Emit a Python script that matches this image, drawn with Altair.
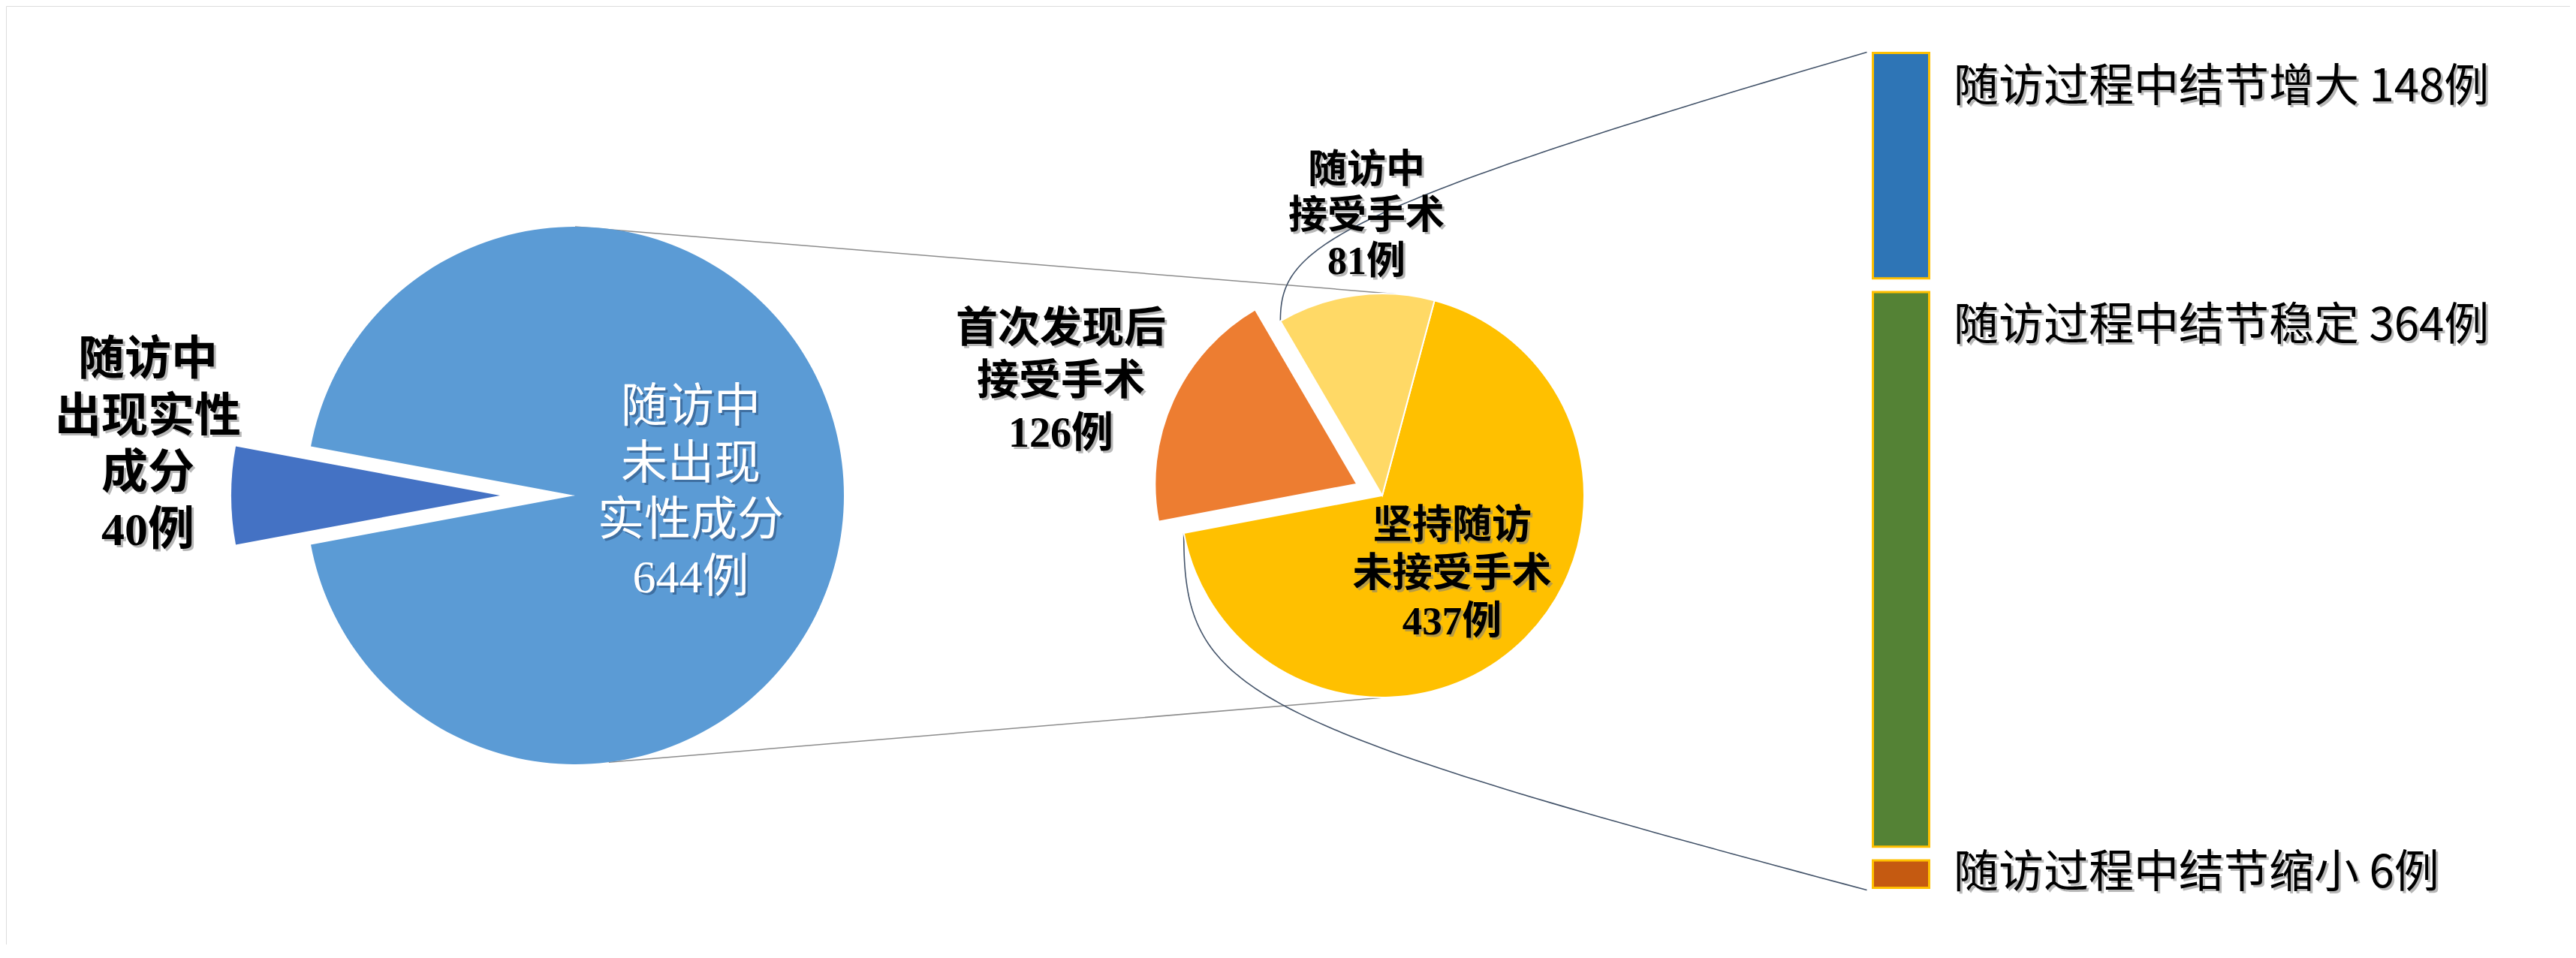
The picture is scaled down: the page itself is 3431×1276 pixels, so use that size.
import math
import altair as alt
import pandas as pd

# ---------------- data ----------------
pie1_cats = ["出现实性成分", "未出现实性成分"]
pie1_values = [40, 644]
pie1_labels = ["随访中\n出现实性\n成分\n40例", "随访中\n未出现\n实性成分\n644例"]

pie2_cats = ["坚持随访未接受手术", "首次发现后接受手术", "随访中接受手术"]
pie2_values = [437, 126, 81]
pie2_labels = ["坚持随访\n未接受手术\n437例", "首次发现后\n接受手术\n126例", "随访中\n接受手术\n81例"]

bar_cats = ["随访过程中结节增大", "随访过程中结节稳定", "随访过程中结节缩小"]
bar_values = [148, 364, 6]

# ---------------- styles ----------------
pie1_colors = ["#4472c4", "#5b9bd5"]
pie2_colors = ["#ffc000", "#ed7d31", "#ffd966"]
bar_colors = ["#2e75b6", "#548235", "#c55a11"]
BAR_STROKE = "#ffc000"
LINE_GRAY = "#8c8c8c"
LINE_NAVY = "#44546a"
SERIF = "'Liberation Serif', 'Noto Sans CJK SC'"
SANS = "'Noto Sans CJK SC'"

# ---------------- layout (reference pixel space) ----------------
OX, OY = 8, 8
W, H = 3415, 1250
XS = alt.Scale(domain=[OX, OX + W], nice=False, zero=False)
YS = alt.Scale(domain=[OY + H, OY], nice=False, zero=False)

C1 = (766.0, 660.0); R1 = 358.0; EXPLODE1 = [100.0, 0.0]
C2 = (1841.0, 660.0); R2 = 269.0; EXPLODE2 = [0.0, 37.0, 0.0]
START2 = 15.0  # first slice angle (degrees, clockwise from 12 o'clock)

BAR_X0, BAR_X1 = 2494.5, 2569.5
BAR_TOP, BAR_BOTTOM = 70.5, 1182.5
BAR_GAP_UNITS = 9
BAR_MIN_UNITS = 18  # keep very small segments visible


def pt(c, r, deg):
    a = math.radians(deg)
    return (c[0] + r * math.sin(a), c[1] - r * math.cos(a))


def pie_frame(cats, values, colors, start_deg, center, explode):
    total = float(sum(values))
    rows = []
    a = start_deg
    for cat, v, col, ex in zip(cats, values, colors, explode):
        span = v / total * 360.0
        mid = a + span / 2
        cx, cy = pt(center, ex, mid)
        rows.append(dict(cat=cat, value=v, color=col,
                         t0=math.radians(a), t1=math.radians(a + span),
                         a0=a, a1=a + span, mid=mid, cx=cx, cy=cy))
        a += span
    return pd.DataFrame(rows)


# left pie: small slice centred on 9 o'clock
start1 = 270.0 - pie1_values[0] / sum(pie1_values) * 360.0 / 2
df1 = pie_frame(pie1_cats, pie1_values, pie1_colors, start1, C1, EXPLODE1)
df2 = pie_frame(pie2_cats, pie2_values, pie2_colors, START2, C2, EXPLODE2)

# stacked bar positions
units = [max(v, BAR_MIN_UNITS) for v in bar_values]
total_units = sum(units) + BAR_GAP_UNITS * (len(units) - 1)
ppu = (BAR_BOTTOM - BAR_TOP) / total_units
rows = []
pos = BAR_TOP
for cat, v, u, col in zip(bar_cats, bar_values, units, bar_colors):
    y0 = pos
    y1 = pos + u * ppu
    mid = (y0 + y1) / 2
    rows.append(dict(cat=cat, value=v, color=col, x0=BAR_X0, x1=BAR_X1,
                     y0=y0, y1=y1, ly=min(y0 + 46, mid),
                     label=f"{cat} {v}例"))
    pos = y1 + BAR_GAP_UNITS * ppu
dfb = pd.DataFrame(rows)


# connector lines
def bezier(p0, p1, p2, p3, n=80):
    out = []
    for i in range(n + 1):
        t = i / n
        a, b, c, d = (1 - t) ** 3, 3 * (1 - t) ** 2 * t, 3 * (1 - t) * t ** 2, t ** 3
        out.append((a * p0[0] + b * p1[0] + c * p2[0] + d * p3[0],
                    a * p0[1] + b * p1[1] + c * p2[1] + d * p3[1]))
    return out


light = df2.iloc[2]
yellow = df2.iloc[0]
p_top0 = pt(C2, R2, light.a0)
p_bot0 = pt(C2, R2, yellow.a1)
p_top3 = (BAR_X0 - 8, BAR_TOP - 1)
p_bot3 = (BAR_X0 - 8, BAR_BOTTOM + 3)
curve_top = bezier(p_top0, (p_top0[0], p_top0[1] - 95), (p_top0[0] + 52, p_top0[1] - 145), p_top3)
curve_bot = bezier(p_bot0, (p_bot0[0], p_bot0[1] + 210), (p_bot0[0] + 63, p_bot0[1] + 250), p_bot3)
curves = []
for cid, pts in (("top", curve_top), ("bottom", curve_bot)):
    for k, (x, y) in enumerate(pts):
        curves.append(dict(id=cid, k=k, x=x, y=y))
dfc = pd.DataFrame(curves)

straight = []
for cid, (a1, a2) in (("top", (0.0, 4.0)), ("bottom", (172.8, 179.6))):
    for k, (x, y) in enumerate((pt(C1, R1, a1), pt(C2, R2, a2))):
        straight.append(dict(id=cid, k=k, x=x, y=y))
dfs = pd.DataFrame(straight)

# label placement (x = block centre, y = first line centre)
pie_text = pd.DataFrame([
    dict(text=pie1_labels[0], x=197, y=480, size=62, lh=75.7, weight="bold", color="black"),
    dict(text=pie1_labels[1], x=920, y=543, size=62, lh=75.7, weight="normal", color="white"),
    dict(text=pie2_labels[0], x=1934, y=701, size=53, lh=64, weight="bold", color="black"),
    dict(text=pie2_labels[1], x=1413, y=438, size=56, lh=70, weight="bold", color="black"),
    dict(text=pie2_labels[2], x=1820, y=227, size=52, lh=61, weight="bold", color="black"),
])


def xy(xf="x", yf="y"):
    return dict(x=alt.X(f"{xf}:Q", scale=XS, axis=None),
                y=alt.Y(f"{yf}:Q", scale=YS, axis=None))


def pie_layer(df, radius, stroke_w):
    return alt.Chart(df).mark_arc(radius=radius, stroke="white", strokeWidth=stroke_w).encode(
        **xy("cx", "cy"),
        theta=alt.Theta("t0:Q", scale=None, stack=None),
        theta2=alt.Theta2("t1"),
        color=alt.Color("color:N", scale=None),
    )


def text_layers(row, shadow_color, shadow_op):
    d = pd.DataFrame([row])
    base = dict(align="center", baseline="middle", lineBreak="\n", lineHeight=row["lh"],
                font=SERIF, fontSize=row["size"], fontWeight=row["weight"])
    sh = alt.Chart(d).mark_text(dx=3, dy=3, color=shadow_color, opacity=shadow_op, **base).encode(
        **xy(), text="text:N")
    fg = alt.Chart(d).mark_text(color=row["color"], **base).encode(**xy(), text="text:N")
    return [sh, fg]


layers = []
layers.append(alt.Chart(dfs).mark_line(color=LINE_GRAY, strokeWidth=1.5).encode(
    **xy(), detail="id:N", order="k:Q"))
layers.append(alt.Chart(dfc).mark_line(color=LINE_NAVY, strokeWidth=1.6).encode(
    **xy(), detail="id:N", order="k:Q"))
layers.append(pie_layer(df1, R1, 0))
layers.append(pie_layer(df2, R2, 2))
layers.append(alt.Chart(dfb).mark_rect(stroke=BAR_STROKE, strokeWidth=3).encode(
    x=alt.X("x0:Q", scale=XS, axis=None), x2="x1",
    y=alt.Y("y0:Q", scale=YS, axis=None), y2="y1",
    color=alt.Color("color:N", scale=None)))

for _, r in pie_text.iterrows():
    if r["color"] == "white":
        layers += text_layers(r.to_dict(), "#1f3b63", 0.45)
    else:
        layers += text_layers(r.to_dict(), "#7f7f7f", 0.55)

bar_text_base = dict(align="left", baseline="middle", font=SANS, fontSize=60, fontWeight="normal")
layers.append(alt.Chart(dfb).mark_text(dx=3, dy=3, color="#7f7f7f", opacity=0.55, **bar_text_base).encode(
    x=alt.value(2602 - OX), y=alt.Y("ly:Q", scale=YS, axis=None), text="label:N"))
layers.append(alt.Chart(dfb).mark_text(color="black", **bar_text_base).encode(
    x=alt.value(2602 - OX), y=alt.Y("ly:Q", scale=YS, axis=None), text="label:N"))

chart = alt.layer(*layers).properties(
    width=W, height=H, padding=0, autosize=alt.AutoSizeParams(type="none")
).configure_view(strokeWidth=0).configure(background="white")

chart.save("out.html", embed_options={"renderer": "svg", "actions": False})
